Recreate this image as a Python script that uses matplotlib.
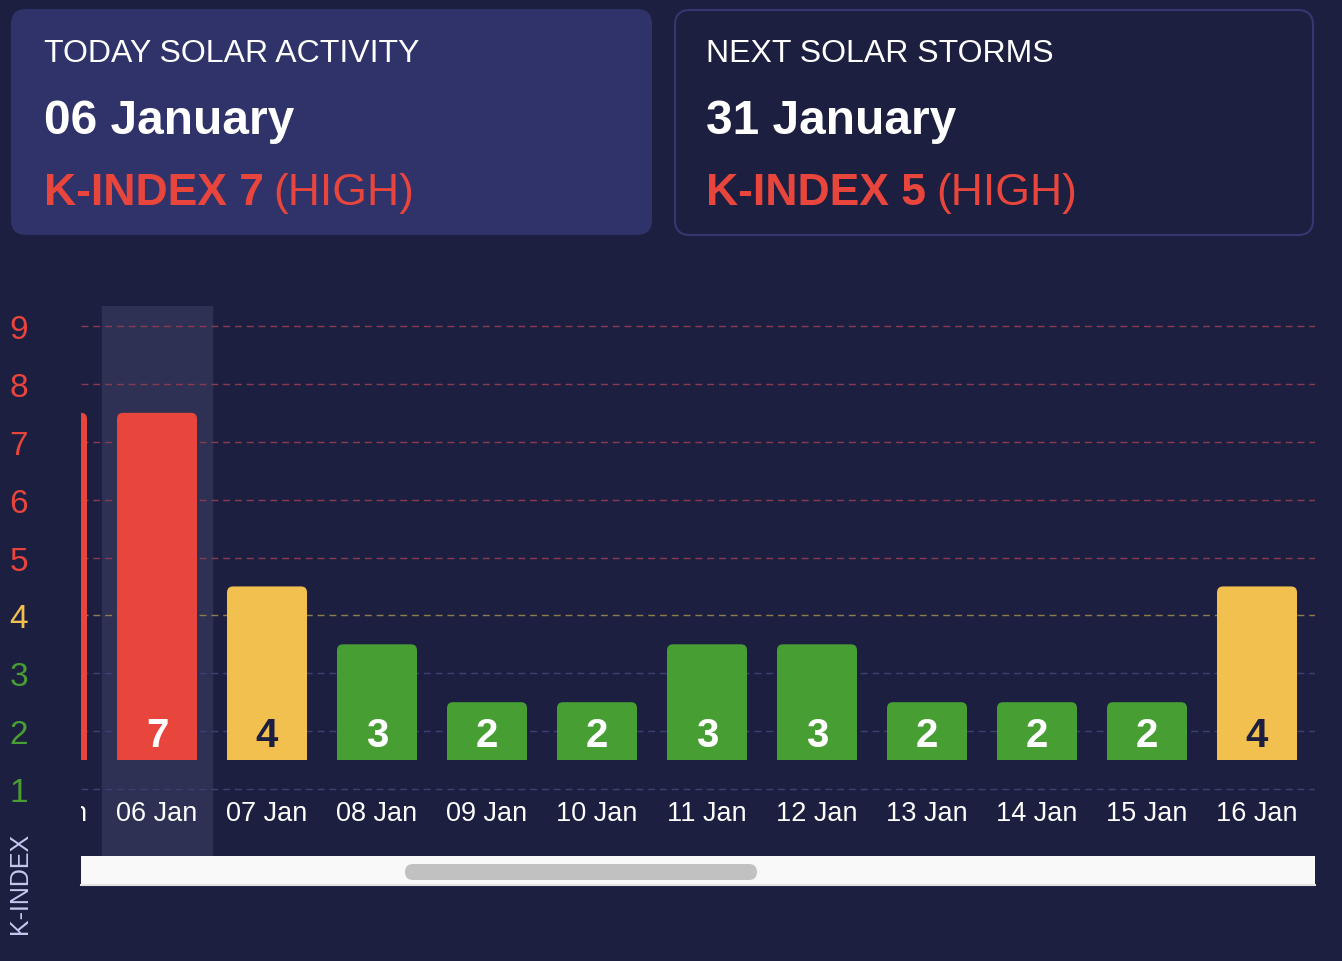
import matplotlib.pyplot as plt
from matplotlib.patches import FancyBboxPatch, Rectangle

plt.rcParams['font.family'] = ['Liberation Sans', 'DejaVu Sans']

# data
days = ['05 Jan', '06 Jan', '07 Jan', '08 Jan', '09 Jan', '10 Jan',
        '11 Jan', '12 Jan', '13 Jan', '14 Jan', '15 Jan', '16 Jan']
kindex = [7, 7, 4, 3, 2, 2, 3, 3, 2, 2, 2, 4]
today = 1  # index of 06 Jan
y_levels = [1, 2, 3, 4, 5, 6, 7, 8, 9]

today_title = 'TODAY SOLAR ACTIVITY'
today_date = '06 January'
today_k = kindex[today]
next_title = 'NEXT SOLAR STORMS'
next_date = '31 January'
next_k = 5

BG = '#1d1f40'
RED = '#e8453c'
YELLOW = '#f2c04e'
GREEN = '#479e33'


def level_color(k):
    if k >= 5:
        return RED
    if k == 4:
        return YELLOW
    return GREEN


def grid_color(k):
    if k >= 5:
        return '#8a3a4e'
    if k == 4:
        return '#8e7b4b'
    return '#3d4073'


fig = plt.figure(figsize=(13.42, 9.62), dpi=100, facecolor=BG)

# background layer in pixel coords
bg = fig.add_axes([0, 0, 1, 1])
bg.set_xlim(0, 1342)
bg.set_ylim(962, 0)
bg.axis('off')

bg.add_patch(FancyBboxPatch((11, 10), 641, 226, boxstyle='round,pad=0,rounding_size=15',
                            fc='#2f3369', ec='none'))
bg.add_patch(FancyBboxPatch((675, 11), 638, 225, boxstyle='round,pad=0,rounding_size=15',
                            fc=BG, ec='#34386f', lw=1.5))

for x0, title, date, k, x_high in [(44, today_title, today_date, today_k, 273),
                                   (706, next_title, next_date, next_k, 936)]:
    bg.text(x0, 62, title, color='white', fontsize=23, va='baseline')
    bg.text(x0, 134, date, color='white', fontsize=34.5, weight='bold', va='baseline')
    bg.text(x0, 205, 'K-INDEX %d' % k, color=level_color(k), fontsize=32,
            weight='bold', va='baseline')
    bg.text(x_high, 205, '(HIGH)', color=level_color(k), fontsize=32, va='baseline')

# scrollbar
bg.add_patch(Rectangle((81, 857), 1234, 30, fc='#f9f9f9', ec='none'))
bg.plot([81, 1315], [886, 886], color='#e2e2e2', lw=1.5)
bg.add_patch(FancyBboxPatch((405, 865), 352, 16, boxstyle='round,pad=0,rounding_size=8',
                            fc='#c1c1c1', ec='none'))

bg.text(20.5, 883, 'K-INDEX', rotation=90, ha='center', va='center',
        color='#c5c8ef', fontsize=18)

# chart
ax = fig.add_axes([81 / 1342, 105 / 962, 1234 / 1342, 550 / 962])
ax.set_facecolor('none')
ax.set_xlim(0.309, 11.527)
ax.set_ylim(-0.158, 9.346)
for s in ax.spines.values():
    s.set_visible(False)

ax.axvspan(today - 0.5, today + 0.5, color='#2e3153', zorder=0)

for k in y_levels:
    ax.axhline(k, color=grid_color(k), lw=1.0, ls=(0, (5, 3.5)), zorder=1)

x = list(range(len(days)))
bars = ax.bar(x, [k - 1 for k in kindex], bottom=1.5, width=0.727,
              color=[level_color(k) for k in kindex], zorder=2)

# round the top corners (~6px)
rx, ry = 6 / 110, 6 / 57.875
for b in bars:
    bx, by, bw, bh = b.get_x(), b.get_y(), b.get_width(), b.get_height()
    b.set_height(bh - ry)
    ax.add_patch(FancyBboxPatch((bx, by + bh - 2 * ry), bw, 2 * ry,
                                boxstyle='round,pad=0,rounding_size=%f' % rx,
                                mutation_aspect=ry / rx, fc=b.get_facecolor(),
                                ec='none', zorder=2))

for i, k in enumerate(kindex):
    ax.text(i, 1.74, str(k), ha='center', va='baseline', fontsize=29, weight='bold',
            color=BG if k == 4 else 'white', clip_on=True, zorder=3)
    ax.text(i, 0.464, days[i], ha='center', va='baseline', fontsize=19.5,
            color='white', clip_on=True, zorder=3)

ax.set_xticks([])
ax.set_yticks(y_levels)
ax.set_yticklabels([str(v) for v in y_levels])
ax.tick_params(axis='y', length=0, pad=38, labelsize=24)
for lab, v in zip(ax.get_yticklabels(), y_levels):
    lab.set_color(level_color(v))

fig.savefig('out.png', dpi=100, facecolor=BG)
